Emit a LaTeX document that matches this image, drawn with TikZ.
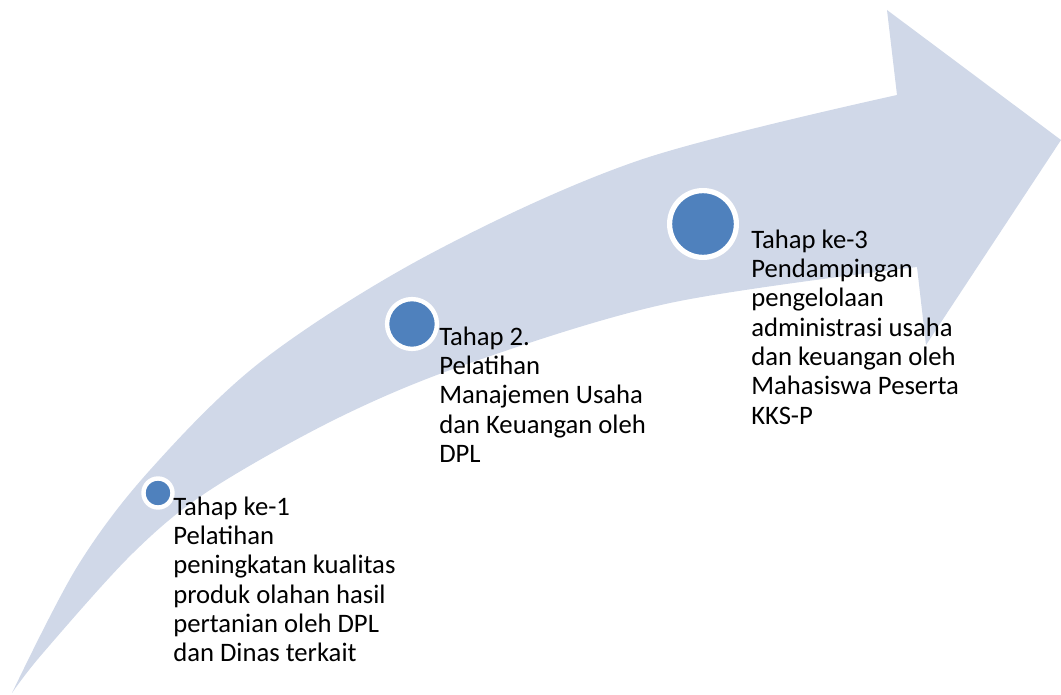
\documentclass[tikz,border=0pt]{standalone}
\usepackage{fontspec}
\setmainfont{Carlito}
\definecolor{arrowfill}{HTML}{D0D8E8}
\definecolor{dotfill}{HTML}{4F81BD}
\tikzset{
  stage/.style={circle, fill=dotfill, draw=white, inner sep=0pt},
  label/.style={anchor=north west, inner sep=0pt, align=left, text=black,
    font=\fontsize{20}{22}\selectfont}
}
\begin{document}
\begin{tikzpicture}[x=0.75pt,y=-0.75pt]
\useasboundingbox (0,0) rectangle (1061,695);
% arrow
\fill[arrowfill]
  plot[smooth, tension=0.55] coordinates {(12,693) (77,567) (150,470) (263,360) (430,254) (640,160) (897,95)}
  -- (887,10) -- (1061,140) -- (926,345) -- (917,267)
  -- plot[smooth, tension=0.55] coordinates {(917,267) (670,303) (470,363) (340,417) (210,490) (133,553) (43,653) (12,693)}
  -- cycle;
% stage dots
\node[stage, minimum size=29pt*0.75, line width=3.3pt] (c1) at (158,493) {};
\node[stage, minimum size=49.8pt*0.75, line width=3.3pt] (c2) at (412,324) {};
\node[stage, minimum size=66.8pt*0.75, line width=3.9pt] (c3) at (703,224) {};
% labels
\node[label] (t1) at (173,494.5) {\strut Tahap ke-1\\Pelatihan\\peningkatan kualitas\\produk olahan hasil\\pertanian oleh DPL\\dan Dinas terkait};
\node[label] (t2) at (439,324.5) {\strut Tahap 2.\\Pelatihan\\Manajemen Usaha\\dan Keuangan oleh\\DPL};
\node[label] (t3) at (751,227.5) {\strut Tahap ke-3\\Pendampingan\\pengelolaan\\administrasi usaha\\dan keuangan oleh\\Mahasiswa Peserta\\KKS-P};
\end{tikzpicture}
\end{document}
